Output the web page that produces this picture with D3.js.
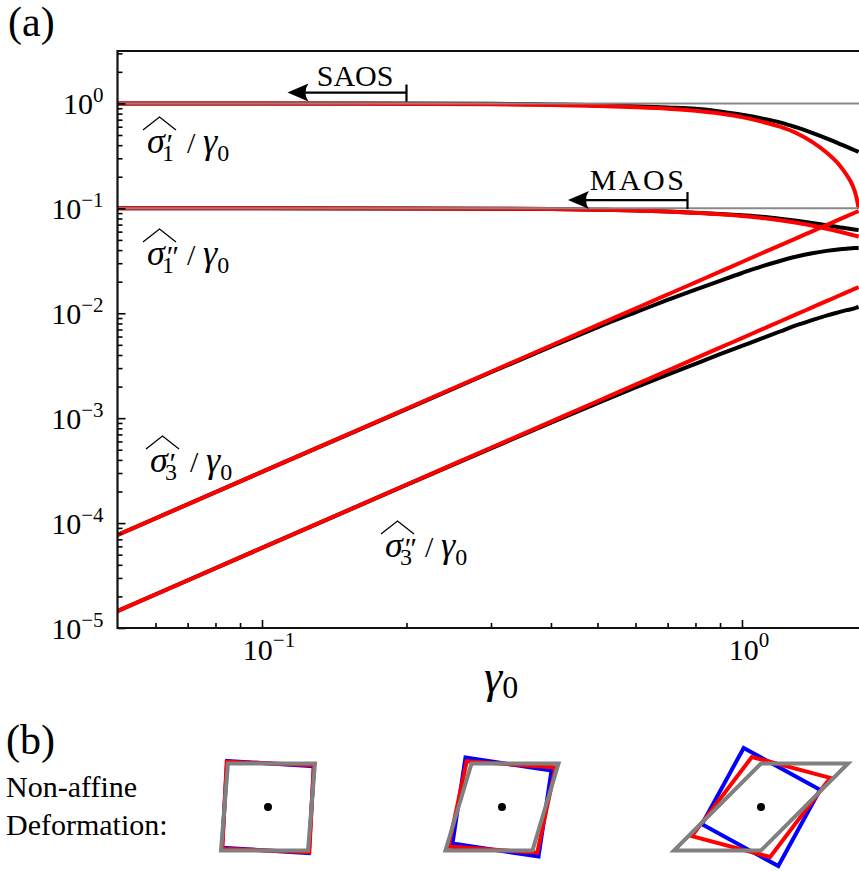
<!DOCTYPE html>
<html>
<head>
<meta charset="utf-8">
<script src="https://cdn.jsdelivr.net/npm/d3@7"></script>
</head>
<body style="margin:0">
<svg id="chart" width="859" height="871"></svg>
<script>
// strain amplitudes where the curves were read
const gammaGrid = [0.05, 0.1, 0.2, 0.3, 0.4, 0.5, 0.6, 0.7, 0.8, 0.9, 1.0, 1.1, 1.2, 1.3, 1.4, 1.5, 1.6, 1.65, 1.7, 1.73, 1.75];

// black = full response, red = MAOS approximation
const sig1pFull  = [1, 1, 0.998, 0.994, 0.978, 0.962, 0.94, 0.915, 0.89, 0.84, 0.78, 0.72, 0.66, 0.59, 0.525, 0.465, 0.41, 0.387, 0.365, 0.353, 0.345];
const sig1pMaos  = [1, 0.998, 0.99, 0.98, 0.965, 0.945, 0.92, 0.89, 0.85, 0.80, 0.74, 0.67, 0.60, 0.52, 0.43, 0.34, 0.255, 0.21, 0.165, 0.13, 0.1];
const sig1ppFull = [0.1, 0.1, 0.0998, 0.0993, 0.0985, 0.0972, 0.0955, 0.0935, 0.091, 0.0885, 0.0858, 0.083, 0.0795, 0.076, 0.0725, 0.069, 0.0658, 0.0645, 0.0632, 0.0625, 0.062];
const sig1ppMaos = [0.1, 0.1, 0.0998, 0.0993, 0.0985, 0.0972, 0.0955, 0.0933, 0.0905, 0.0877, 0.0845, 0.081, 0.077, 0.0728, 0.0685, 0.064, 0.0598, 0.0577, 0.0557, 0.0545, 0.0538];
const sig3pFull  = [7.7e-5, 3.08e-4, 1.22e-3, 2.74e-3, 4.8e-3, 7.35e-3, 0.0102, 0.0134, 0.0168, 0.0204, 0.0242, 0.028, 0.0315, 0.0347, 0.0373, 0.0393, 0.0408, 0.0413, 0.0417, 0.0419, 0.042];
const sig3pMaos  = [7.7e-5, 3.08e-4, 1.23e-3, 2.77e-3, 4.93e-3, 7.7e-3, 0.0111, 0.0151, 0.0197, 0.0249, 0.0308, 0.0373, 0.0444, 0.052, 0.0604, 0.0693, 0.0788, 0.0839, 0.089, 0.0922, 0.0943];
const sig3ppFull = [1.45e-5, 5.8e-5, 2.31e-4, 5.15e-4, 9.05e-4, 1.39e-3, 1.96e-3, 2.6e-3, 3.3e-3, 4.07e-3, 4.88e-3, 5.75e-3, 6.7e-3, 7.7e-3, 8.6e-3, 9.5e-3, 0.0103, 0.0107, 0.011, 0.0113, 0.0115];
const sig3ppMaos = [1.45e-5, 5.8e-5, 2.32e-4, 5.22e-4, 9.28e-4, 1.45e-3, 2.09e-3, 2.84e-3, 3.71e-3, 4.7e-3, 5.8e-3, 7.02e-3, 8.35e-3, 9.8e-3, 0.01137, 0.01305, 0.01485, 0.0158, 0.01676, 0.01735, 0.0178];

// linear-viscoelastic reference levels (grey)
const refLevels = [1, 0.1];

// axis ticks
const xMajor = [0.1, 1];
const xMinor = [0.06, 0.07, 0.08, 0.09, 0.2, 0.3, 0.4, 0.5, 0.6, 0.7, 0.8, 0.9];
const yMajor = [1e-5, 1e-4, 1e-3, 1e-2, 1e-1, 1];
const yExp = ["\u22125", "\u22124", "\u22123", "\u22122", "\u22121", "0"];
const xExp = ["\u22121", "0"];

// regime annotations: [arrow tip gamma, bar end gamma, level]
const regimeNames = ["SAOS", "MAOS"];
const regimeSpans = [[0.113, 0.2, 1.27], [0.434, 0.77, 0.12]];

// panel (b): applied shear, rigid rotation (rad), red map [a, b, c, d]
const shearStrain = [0.08, 0.3, 1.0];
const blueRotation = [0.06, 0.15, 0.5];
const redMap = [[1.0, 0.05, -0.04, 1.0], [1.02, 0.21, -0.07, 0.98], [0.90, 0.69, -0.24, 0.91]];

const svg = d3.select('#chart');

const margin = { left: 117.5, top: 51, bottom: 628, right: 861 };
const x = d3.scaleLog().domain([0.05, 1.77]).range([margin.left, margin.right]);
const y = d3.scaleLog().domain([1e-5, 3.16]).range([margin.bottom, margin.top]);

function txt(px, py, size) {
  return svg.append('text')
    .attr('x', px).attr('y', py)
    .style('font-family', '"Liberation Serif"')
    .style('font-size', size + 'px');
}

// panel letters first
txt(8, 36, 42).text('(a)');
txt(6, 754, 42).text('(b)');
txt(6, 797, 30).text('Non-affine');
txt(6, 835, 30).text('Deformation:');

svg.append('defs').append('clipPath').attr('id', 'plotclip')
  .append('rect')
  .attr('x', margin.left).attr('y', margin.top)
  .attr('width', margin.right - margin.left).attr('height', margin.bottom - margin.top);

const plot = svg.append('g').attr('clip-path', 'url(#plotclip)');

const line = d3.line()
  .x(d => x(d[0]))
  .y(d => y(d[1]))
  .curve(d3.curveMonotoneX);

const full = [sig1pFull, sig1ppFull, sig3pFull, sig3ppFull];
const maos = [sig1pMaos, sig1ppMaos, sig3pMaos, sig3ppMaos];

plot.selectAll('.full')
  .data(full)
  .enter()
  .append('path')
  .attr('class', 'full')
  .attr('fill', 'none')
  .attr('stroke', '#000')
  .attr('stroke-width', 4)
  .attr('d', s => line(gammaGrid.map((g, i) => [g, s[i]])));

plot.selectAll('.maos')
  .data(maos)
  .enter()
  .append('path')
  .attr('class', 'maos')
  .attr('fill', 'none')
  .attr('stroke', '#ff0000')
  .attr('stroke-width', 4)
  .attr('d', s => line(gammaGrid.map((g, i) => [g, s[i]])));

plot.selectAll('.ref')
  .data(refLevels)
  .enter()
  .append('line')
  .attr('class', 'ref')
  .attr('x1', x.range()[0]).attr('x2', x.range()[1])
  .attr('y1', d => y(d)).attr('y2', d => y(d))
  .attr('stroke', '#888')
  .attr('stroke-width', 2);

// axes, ticks pointing inwards (tick marks only; labels are set below)
const xAxisG = svg.append('g').attr('transform', `translate(0,${margin.bottom})`);
xAxisG.call(d3.axisBottom(x).tickValues(xMinor).tickSize(-5).tickFormat(''));
xAxisG.append('g').call(d3.axisBottom(x).tickValues(xMajor).tickSize(-8).tickFormat(''));
xAxisG.selectAll('.domain').remove();
xAxisG.selectAll('text').remove();
xAxisG.selectAll('line').attr('stroke', '#000').attr('stroke-width', 1.6);

const yAxisG = svg.append('g').attr('transform', `translate(${margin.left},0)`);
const yMinor = [];
yMajor.forEach(v => { for (let k = 2; k <= 9; k++) if (v * k <= 3.16) yMinor.push(v * k); });
yAxisG.call(d3.axisLeft(y).tickValues(yMinor).tickSize(-5).tickFormat(''));
yAxisG.append('g').call(d3.axisLeft(y).tickValues(yMajor).tickSize(-8).tickFormat(''));
yAxisG.selectAll('.domain').remove();
yAxisG.selectAll('text').remove();
yAxisG.selectAll('line').attr('stroke', '#000').attr('stroke-width', 1.6);

// frame
svg.append('path')
  .attr('d', `M${margin.right},${margin.top}H${margin.left}V${margin.bottom}H${margin.right}`)
  .attr('fill', 'none')
  .attr('stroke', '#111')
  .attr('stroke-width', 2.2);

// tick labels
yMajor.forEach((v, i) => {
  const t = txt(margin.left - 14, y(v) + 11, 30).attr('text-anchor', 'end');
  t.append('tspan').text('10');
  t.append('tspan').attr('dy', -12).style('font-size', '21px').text(yExp[i]);
});
xMajor.forEach((v, i) => {
  const t = txt(x(v) + 7, margin.bottom + 32, 30).attr('text-anchor', 'middle');
  t.append('tspan').text('10');
  t.append('tspan').attr('dy', -13).style('font-size', '21px').text(xExp[i]);
});

// axis title
const xt = txt(484, 692, 46);
xt.append('tspan').style('font-style', 'italic').text('\u03b3');
xt.append('tspan').attr('dy', 6).style('font-size', '32px').text('0');

// regime arrows
regimeSpans.forEach((s, i) => {
  const x0 = x(s[0]), x1 = x(s[1]), yy = y(s[2]);
  svg.append('line')
    .attr('x1', x0 + 10).attr('x2', x1).attr('y1', yy).attr('y2', yy)
    .attr('stroke', '#000').attr('stroke-width', 2.2);
  svg.append('line')
    .attr('x1', x1).attr('x2', x1).attr('y1', yy - 8).attr('y2', yy + 9)
    .attr('stroke', '#000').attr('stroke-width', 2.2);
  svg.append('path')
    .attr('d', `M${x0},${yy} L${x0 + 21},${yy - 9} Q${x0 + 15},${yy} ${x0 + 21},${yy + 9} Z`)
    .attr('fill', '#000');
  txt(i === 0 ? x1 - 13 : x1 - 1, i === 0 ? yy - 7 : yy - 10, 30)
    .attr('text-anchor', 'end')
    .style('letter-spacing', i === 0 ? '0px' : '2.5px')
    .text(regimeNames[i]);
});

// curve labels: sigma-hat_n^prime / gamma_0, one text element each
function sigmaLabel(px, base, sub, prime) {
  const t = txt(px, base, 36);
  t.append('tspan').style('font-style', 'italic').text('\u03c3');
  t.append('tspan').attr('dx', 0).attr('dy', 1).style('font-size', '30px').style('font-style', 'italic').text(prime);
  t.append('tspan').attr('x', px + 15).attr('dy', 7).style('font-size', '24px').text(sub);
  const slashX = prime.length > 1 ? px + 38 : px + 40;
  t.append('tspan').attr('x', slashX).attr('dy', -8).style('font-size', '30px').text('/');
  t.append('tspan').attr('x', slashX + 16).style('font-style', 'italic').text('\u03b3');
  t.append('tspan').attr('dy', 8).style('font-size', '24px').text('0');
  const w = prime.length > 1 ? 38 : 33;
  svg.append('path')
    .attr('d', `M${px - 4},${base - 23} L${px - 4 + w / 2},${base - 36} L${px - 4 + w},${base - 23}`)
    .attr('fill', 'none').attr('stroke', '#000').attr('stroke-width', 1.3);
}
sigmaLabel(147, 153, '1', '\u2032');
sigmaLabel(147, 265, '1', '\u2033');
sigmaLabel(150, 472, '3', '\u2032');
sigmaLabel(385, 557, '3', '\u2033');

// panel (b) shapes
const cellX = [268, 502, 761];
const cellY = 807;
const half = 43.5;
const ux = d3.scaleLinear().domain([-1, 1]).range([-half, half]);
const uy = d3.scaleLinear().domain([-1, 1]).range([half, -half]);
const corners = [[-1, 1], [1, 1], [1, -1], [-1, -1]];

function applyMap(m) {
  return corners.map(([cx, cy]) => [m[0] * cx + m[1] * cy, m[2] * cx + m[3] * cy]);
}
const quad = d3.line().x(d => ux(d[0])).y(d => uy(d[1])).curve(d3.curveLinearClosed);

const cells = svg.selectAll('.cell')
  .data(shearStrain)
  .enter()
  .append('g')
  .attr('class', 'cell')
  .attr('transform', (d, i) => `translate(${cellX[i]},${cellY})`);

cells.append('path')
  .attr('d', (d, i) => {
    const t = blueRotation[i];
    return quad(applyMap([Math.cos(t), Math.sin(t), -Math.sin(t), Math.cos(t)]));
  })
  .attr('fill', 'none').attr('stroke', '#0000ff').attr('stroke-width', 4).attr('stroke-linejoin', 'miter');

cells.append('path')
  .attr('d', (d, i) => quad(applyMap(redMap[i])))
  .attr('fill', 'none').attr('stroke', '#ff0000').attr('stroke-width', 4).attr('stroke-linejoin', 'miter');

cells.append('path')
  .attr('d', d => quad(applyMap([1, d, 0, 1])))
  .attr('fill', 'none').attr('stroke', '#808080').attr('stroke-width', 4).attr('stroke-linejoin', 'miter');

cells.append('circle').attr('r', 4).attr('fill', '#000');
</script>
</body>
</html>
